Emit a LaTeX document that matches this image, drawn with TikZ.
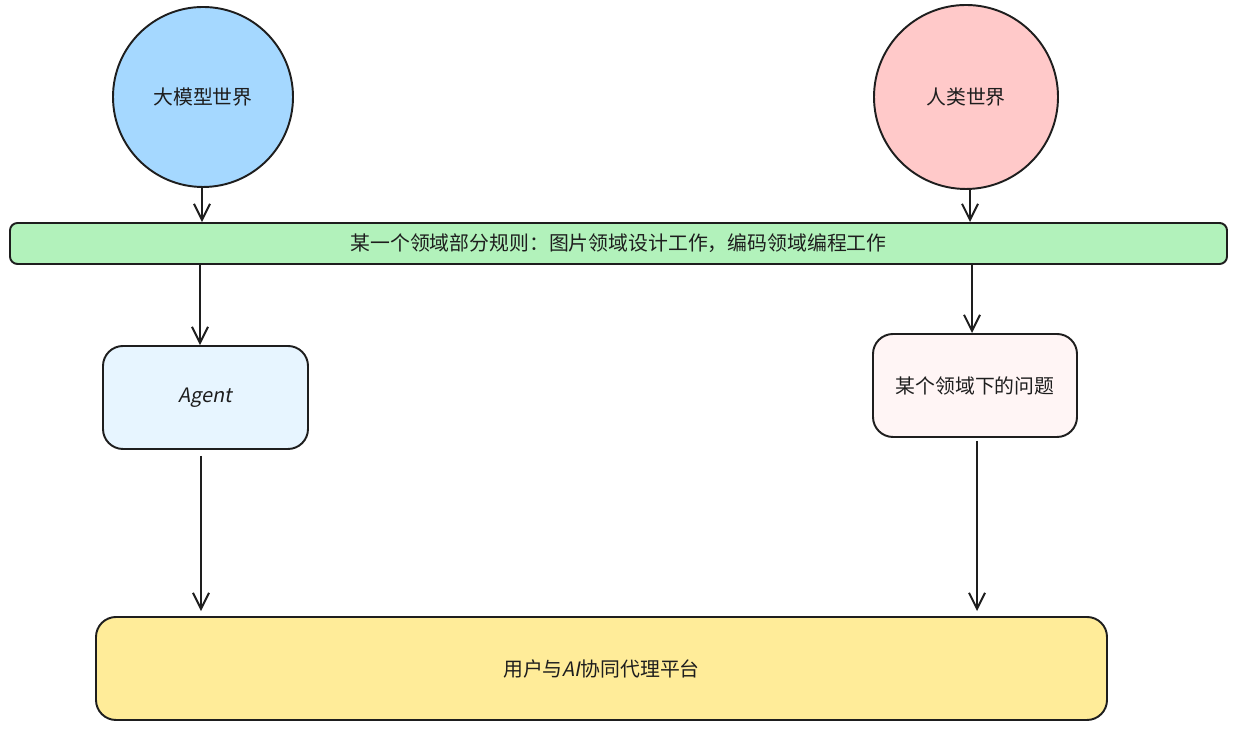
\documentclass[tikz,border=0pt]{standalone}
\usepackage{fontspec}
\setmainfont{Noto Sans CJK SC}
\newfontfamily\handfont[FakeSlant=0.2]{Noto Sans CJK SC}
\usetikzlibrary{arrows.meta}
\definecolor{inkc}{HTML}{1E1E1E}
\definecolor{llmc}{HTML}{A5D8FF}
\definecolor{humc}{HTML}{FFC9C9}
\definecolor{rulec}{HTML}{B2F2BB}
\definecolor{agentc}{HTML}{E7F5FF}
\definecolor{probc}{HTML}{FFF5F5}
\definecolor{platc}{HTML}{FFEC99}
\tikzset{
  world/.style={circle, draw=inkc, line width=1.1pt, inner sep=0pt},
  card/.style={rectangle, draw=inkc, line width=1.1pt, rounded corners=0.4cm, inner sep=0pt},
  flow/.style={draw=inkc, line width=1.2pt, -{Straight Barb[length=0.32cm,width=0.32cm,line width=1.1pt]}}
}
\begin{document}
\begin{tikzpicture}[font=\fontsize{11.3}{13}\selectfont, text=inkc]
\useasboundingbox (0,0) rectangle (24.74,14.62);
\node[world, fill=llmc, minimum size=3.6cm] (llm) at (4.06,12.68) {大模型世界};
\node[world, fill=humc, minimum size=3.68cm] (human) at (19.32,12.68) {人类世界};
\node[card, fill=rulec, rounded corners=0.15cm, minimum width=24.34cm, minimum height=0.82cm] (rule) at (12.37,9.75) {某一个领域部分规则：图片领域设计工作，编码领域编程工作};
\node[card, fill=agentc, minimum width=4.1cm, minimum height=2.06cm] (agent) at (4.11,6.67) {{\handfont Agent}};
\node[card, fill=probc, minimum width=4.08cm, minimum height=2.06cm] (problem) at (19.5,6.91) {某个领域下的问题};
\node[card, fill=platc, minimum width=20.22cm, minimum height=2.06cm] (platform) at (12.03,1.25) {用户与{\handfont AI}协同代理平台};
\draw[flow] ([xshift=-0.02cm]llm.south) -- ([xshift=-0.02cm]llm.south |- rule.north);
\draw[flow] ([xshift=0.08cm]human.south) -- ([xshift=0.08cm]human.south |- rule.north);
\draw[flow] ([xshift=-0.11cm]agent.north |- rule.south) -- ([xshift=-0.11cm]agent.north);
\draw[flow] ([xshift=-0.06cm]problem.north |- rule.south) -- ([xshift=-0.06cm]problem.north);
\draw[flow, shorten <=0.12cm, shorten >=0.1cm] ([xshift=-0.09cm]agent.south) -- ([xshift=-0.09cm]agent.south |- platform.north);
\draw[flow, shorten <=0.06cm, shorten >=0.1cm] ([xshift=0.04cm]problem.south) -- ([xshift=0.04cm]problem.south |- platform.north);
\end{tikzpicture}
\end{document}
